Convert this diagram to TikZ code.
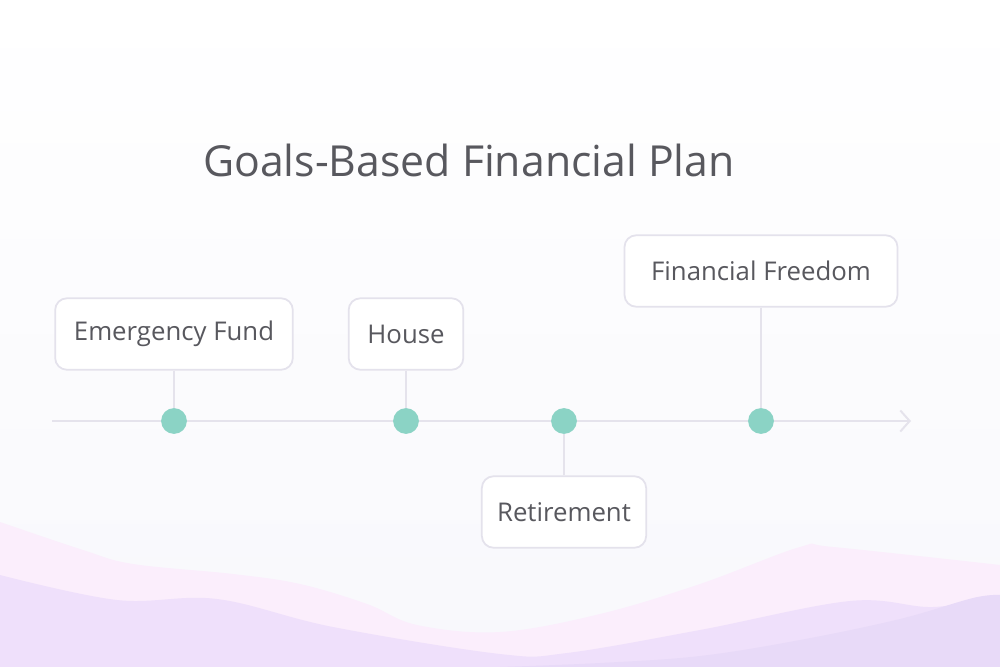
\documentclass[tikz,border=0pt]{standalone}
\usepackage{fontspec}
\setmainfont{Open Sans}
\usetikzlibrary{arrows.meta,positioning}
\definecolor{bgtint}{HTML}{F8F8FC}
\definecolor{wavepink}{HTML}{FBEEFC}
\definecolor{wavelilac}{HTML}{EFE0FB}
\definecolor{wavedeep}{HTML}{E8DAF8}
\definecolor{axisgray}{HTML}{E5E3EC}
\definecolor{boxline}{HTML}{E4E2EC}
\definecolor{dotteal}{HTML}{8BD3C5}
\definecolor{txtgray}{HTML}{58585E}
\tikzset{
  goal/.style={draw=boxline, line width=1.5pt, fill=white, rounded corners=10pt,
    inner xsep=16pt, minimum height=61pt, text=txtgray,
    font=\fontsize{22}{26}\selectfont},
  milestone/.style={circle, fill=dotteal, inner sep=0pt, minimum size=22pt},
  link/.style={draw=axisgray, line width=1.7pt},
}
\begin{document}
\begin{tikzpicture}[x=0.03cm, y=-0.03cm]
% background and waves
\shade[top color=white, bottom color=bgtint] (0,0) rectangle (1000,667);
\useasboundingbox (0,0) rectangle (1000,667);
\fill[wavepink] plot[smooth, tension=0.6] coordinates {(0,522) (83,550) (133,564)
  (233,574) (300,584) (367,604) (417,625) (500,632) (600,614) (700,584) (800,547)
  (833,547) (1000,565)} -- (1000,667) -- (0,667) -- cycle;
\fill[wavelilac] plot[smooth, tension=0.6] coordinates {(0,575) (117,600) (217,599)
  (333,627) (500,654) (567,653) (700,630) (850,601) (933,607) (1000,596)}
  -- (1000,667) -- (0,667) -- cycle;
\fill[wavedeep] plot[smooth, tension=0.6] coordinates {(500,667) (600,663) (700,656)
  (800,640) (900,619) (973,598) (1000,595)} -- (1000,667) -- cycle;

% title
\node[text=txtgray, font=\fontsize{36.5}{42}\selectfont] (title) at (469,160)
  {Goals-Based Financial Plan};

% time axis
\coordinate (a0) at (52,421);
\coordinate (a1) at (911,421);
\draw[link, -{Straight Barb[length=8pt, width=18pt, line width=1.7pt]}] (a0) -- (a1);

% milestones
\node[milestone] (d1) at (174,421) {};
\node[milestone] (d2) at (406,421) {};
\node[milestone] (d3) at (564,421) {};
\node[milestone] (d4) at (761,421) {};

% goals
\node[goal] (b1) at (174,334) {Emergency Fund};
\node[goal] (b2) at (406,334) {House};
\node[goal, inner xsep=13pt] (b3) at (564,512) {Retirement};
\node[goal, minimum width=233pt] (b4) at (761,271) {Financial Freedom};

\draw[link] (b1) -- (d1);
\draw[link] (b2) -- (d2);
\draw[link] (b3) -- (d3);
\draw[link] (b4) -- (d4);
\end{tikzpicture}
\end{document}
